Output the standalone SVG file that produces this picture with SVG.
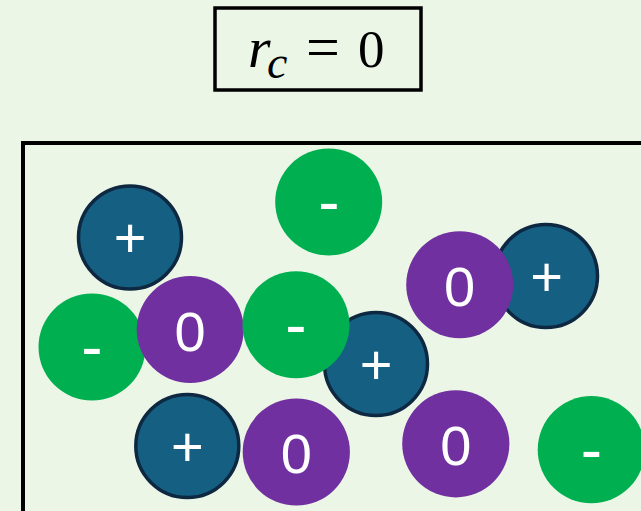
<svg xmlns="http://www.w3.org/2000/svg" width="641" height="511" viewBox="0 0 641 511">
<style>
.bg{fill:#ebf6e6}
.frame{fill:none;stroke:#000;stroke-width:4}
.title{fill:none;stroke:#000;stroke-width:3.5}
.math{font-family:"Liberation Serif",serif;fill:#000}
.pos{fill:#156082;stroke:#0e2841;stroke-width:3.5}
.neg{fill:#00b050}
.neu{fill:#7030a0}
.lbl{font-family:"Liberation Sans",Arial,sans-serif;fill:#fff;text-anchor:middle}
.l0{font-size:56px}
.lp{font-size:56px}
.lm{font-size:64px}
</style>
<rect class="bg" x="0" y="0" width="641" height="511"/>
<g id="title">
<rect class="title" x="215" y="8" width="206" height="82"/>
<text class="math" y="67"><tspan x="248" font-size="58" font-style="italic">r</tspan><tspan x="267" y="78" font-size="46" font-style="italic">c</tspan><tspan x="306" y="67" font-size="60">=</tspan><tspan x="358" y="67" font-size="53">0</tspan></text>
</g>
<g id="container">
<rect class="frame" x="23" y="143" width="700" height="500"/>
</g>
<g id="connectors"></g>
<g id="p1"><circle class="pos" cx="130" cy="237.5" r="51.5"/><text class="lbl lp" x="130" y="257">+</text></g>
<g id="m1"><circle class="neg" cx="328.7" cy="202" r="53.5"/><text class="lbl lm" x="329" y="224">-</text></g>
<g id="p2"><circle class="pos" cx="546" cy="276" r="51.5"/><text class="lbl lp" x="546.5" y="295.5">+</text></g>
<g id="n1"><circle class="neu" cx="459.7" cy="284.7" r="53.5"/><text class="lbl l0" x="459.5" y="306">0</text></g>
<g id="m2"><circle class="neg" cx="92" cy="347" r="53.5"/><text class="lbl lm" x="92" y="369">-</text></g>
<g id="n2"><circle class="neu" cx="190.2" cy="329.5" r="53.5"/><text class="lbl l0" x="190.2" y="351">0</text></g>
<g id="p3"><circle class="pos" cx="376" cy="364" r="51.5"/><text class="lbl lp" x="376" y="383.5">+</text></g>
<g id="m3"><circle class="neg" cx="296" cy="324.7" r="53.5"/><text class="lbl lm" x="296" y="347">-</text></g>
<g id="p4"><circle class="pos" cx="187.3" cy="446" r="51.5"/><text class="lbl lp" x="187.3" y="465.5">+</text></g>
<g id="n3"><circle class="neu" cx="296.3" cy="452" r="53.6"/><text class="lbl l0" x="296.3" y="473">0</text></g>
<g id="n4"><circle class="neu" cx="455.8" cy="443.8" r="53.6"/><text class="lbl l0" x="455.8" y="465">0</text></g>
<g id="m4"><circle class="neg" cx="591.3" cy="449.7" r="53.6"/><text class="lbl lm" x="591.3" y="472">-</text></g>
</svg>
